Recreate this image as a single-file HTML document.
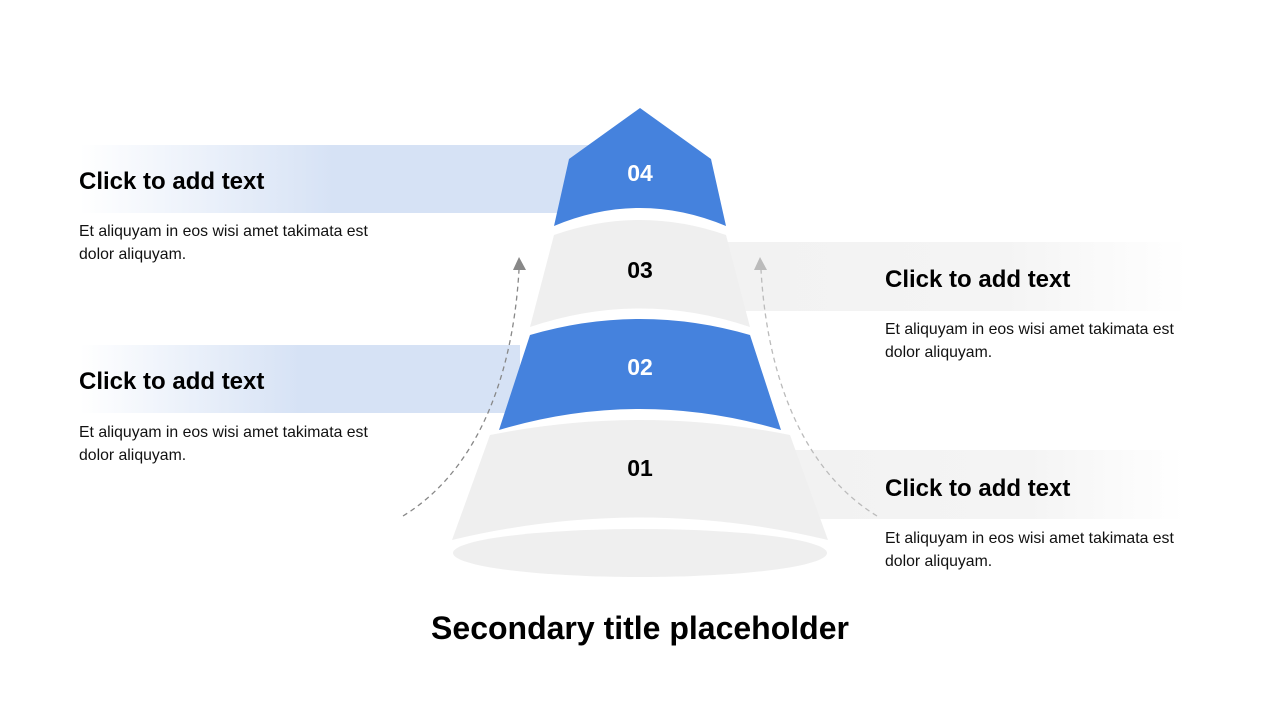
<!DOCTYPE html>
<html><head><meta charset="utf-8"><style>
html,body{margin:0;padding:0;background:#fff;}
body{width:1280px;height:720px;position:relative;overflow:hidden;font-family:"Liberation Sans",Arial,sans-serif;}
.h{position:absolute;font-weight:bold;font-size:24px;color:#000;}
.p{position:absolute;font-size:15.8px;line-height:23px;color:#111;}
</style></head><body>
<svg width="1280" height="720" style="position:absolute;left:0;top:0">
<defs>
<linearGradient id="gb" x1="0" x2="1"><stop offset="0" stop-color="#d6e2f5" stop-opacity="0"/><stop offset="0.5" stop-color="#d6e2f5"/><stop offset="1" stop-color="#d6e2f5"/></linearGradient>
<linearGradient id="gg" x1="0" x2="1"><stop offset="0" stop-color="#f2f2f2"/><stop offset="0.6" stop-color="#f4f4f4"/><stop offset="1" stop-color="#f4f4f4" stop-opacity="0"/></linearGradient>
</defs>
<rect x="80" y="145" width="510" height="68" fill="url(#gb)"/>
<rect x="80" y="345" width="440" height="68" fill="url(#gb)"/>
<rect x="727" y="242" width="460" height="69" fill="url(#gg)"/>
<rect x="790" y="450" width="395" height="69" fill="url(#gg)"/>
<path d="M403,516 C470,475 512,390 519,270" fill="none" stroke="#888" stroke-width="1.3" stroke-dasharray="5,4"/>
<polygon points="519,257 513,270 526,270" fill="#888"/>
<path d="M877,516 C810,475 768,390 761,270" fill="none" stroke="#bbb" stroke-width="1.3" stroke-dasharray="5,4"/>
<polygon points="760,257 754,270 767,270" fill="#bbb"/>
<ellipse cx="640" cy="553" rx="187" ry="24" fill="#efefef"/>
<path d="M490,435 Q640,405 790,435 L828,540 Q640,495 452,540 Z" fill="#efefef"/>
<path d="M530,335 Q640,303 750,335 L781,430 Q640,388 499,430 Z" fill="#4582dd"/>
<path d="M554,235 Q640,205 726,235 L750,327 Q640,290 530,327 Z" fill="#efefef"/>
<path d="M640,108 L711,159 L726,226 Q640,190 554,226 L569,159 Z" fill="#4582dd"/>
<g font-weight="bold" font-size="23" text-anchor="middle" font-family="Liberation Sans,Arial,sans-serif">
<text x="640" y="181" fill="#fff">04</text>
<text x="640" y="278" fill="#000">03</text>
<text x="640" y="375" fill="#fff">02</text>
<text x="640" y="476" fill="#000">01</text>
</g>
</svg>
<div class="h" style="left:79px;top:168px">Click to add text</div>
<div class="p" style="left:79px;top:220px">Et aliquyam in eos wisi amet takimata est<br>dolor aliquyam.</div>
<div class="h" style="left:79px;top:368px">Click to add text</div>
<div class="p" style="left:79px;top:421px">Et aliquyam in eos wisi amet takimata est<br>dolor aliquyam.</div>
<div class="h" style="left:885px;top:266px">Click to add text</div>
<div class="p" style="left:885px;top:318px">Et aliquyam in eos wisi amet takimata est<br>dolor aliquyam.</div>
<div class="h" style="left:885px;top:475px">Click to add text</div>
<div class="p" style="left:885px;top:527px">Et aliquyam in eos wisi amet takimata est<br>dolor aliquyam.</div>
<div style="position:absolute;left:0;width:1280px;top:610px;text-align:center;font-weight:bold;font-size:32px;color:#000">Secondary title placeholder</div>
</body></html>
